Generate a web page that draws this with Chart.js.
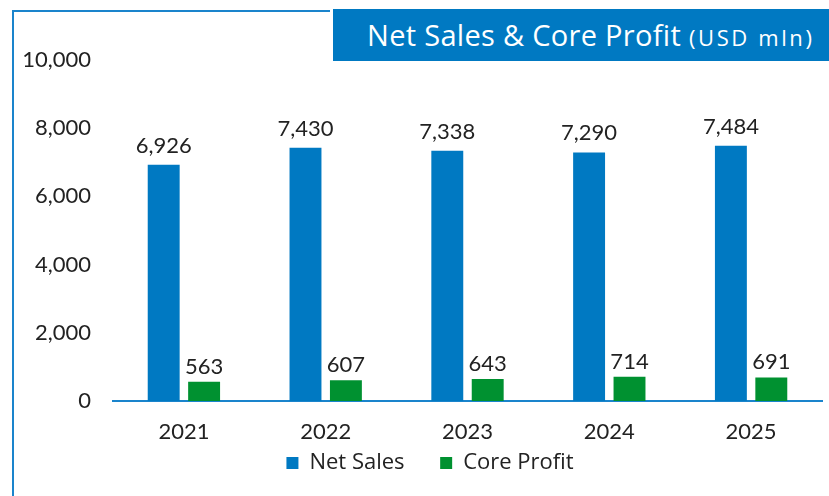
<!DOCTYPE html>
<html>
<head>
<meta charset="utf-8">
<script src="https://cdn.jsdelivr.net/npm/chart.js@4/dist/chart.umd.min.js"></script>
<style>
	body { margin: 0; background: #fff; }
	#wrap { position: relative; width: 829px; height: 496px; overflow: hidden; }
	#chart { position: absolute; left: 0; top: 0; }
	.frame-left { position: absolute; left: 12px; top: 10px; width: 2px; height: 486px; background: #1a84cc; }
	.frame-top { position: absolute; left: 12px; top: 10px; width: 318px; height: 2px; background: #1a84cc; }
	#title {
		position: absolute; left: 333px; top: 9px; width: 496px; height: 52px;
		background: #0079c2; color: #fff; font-family: "Open Sans", sans-serif;
		font-size: 29px; line-height: 52px; padding-left: 34px; box-sizing: border-box;
		white-space: nowrap; letter-spacing: 0.3px;
	}
	#title small { font-size: 22px; letter-spacing: 2.6px; }
</style>
</head>
<body>
<div id="wrap">
	<canvas id="chart" width="829" height="496"></canvas>
	<div class="frame-left"></div>
	<div class="frame-top"></div>
	<div id="title">Net Sales &amp; Core Profit <small>(USD mln)</small></div>
</div>
<script>
const years = ["2021", "2022", "2023", "2024", "2025"];
const netSales = [6926, 7430, 7338, 7290, 7484];
const coreProfit = [563, 607, 643, 714, 691];
const yMax = 10000;
const yStep = 2000;

const fmt = (v) => v.toLocaleString("en-US");

const barLabels = {
	id: "barLabels",
	afterLayout(chart) {
		// legend sits a little right of centre in the original
		chart.legend.left += 12;
		chart.legend.right += 12;
	},
	// value labels above the bars
	afterDatasetsDraw(chart) {
		const c = chart.ctx;
		c.save();
		c.font = "22px Lato, sans-serif";
		c.fillStyle = "#222";
		c.textAlign = "center";
		c.textBaseline = "alphabetic";
		chart.data.datasets.forEach((ds, i) => {
			chart.getDatasetMeta(i).data.forEach((bar, j) => {
				c.fillText(fmt(ds.data[j]), bar.x, bar.y - (i === 0 ? 12 : 8));
			});
		});
		c.restore();
	},
};

const ctx = document.getElementById("chart");
const myChart = new Chart(ctx, {
	type: "bar",
	data: {
		labels: years,
		datasets: [
			{
				label: "Net Sales",
				data: netSales,
				backgroundColor: "#0079c2",
				borderWidth: 0,
				categoryPercentage: 0.57,
				barPercentage: 0.79,
			},
			{
				label: "Core Profit",
				data: coreProfit,
				backgroundColor: "#009130",
				borderWidth: 0,
				categoryPercentage: 0.57,
				barPercentage: 0.79,
			},
		],
	},
	options: {
		responsive: false,
		animation: false,
		devicePixelRatio: 1,
		layout: {
			padding: { left: 14, right: 7, top: 60, bottom: 12 },
		},
		plugins: {
			legend: {
				position: "bottom",
				labels: {
					boxWidth: 12,
					boxHeight: 12,
					padding: 7,
					color: "#222",
					font: { family: "'Open Sans', sans-serif", size: 22 },
					generateLabels(chart) {
						const items = Chart.defaults.plugins.legend.labels.generateLabels(chart);
						// wider gap between the two entries
						items[0].text += "     ";
						return items;
					},
				},
			},
			tooltip: { enabled: false },
		},
		scales: {
			x: {
				grid: { display: false, drawTicks: false },
				border: { display: true, color: "#1a84cc", width: 2 },
				ticks: {
					padding: 18,
					color: "#222",
					font: { family: "Lato, sans-serif", size: 22 },
				},
				afterFit(scale) {
					scale.height = 44;
				},
			},
			y: {
				min: 0,
				max: yMax,
				grid: { display: false, drawTicks: false },
				border: { display: false },
				ticks: {
					stepSize: yStep,
					padding: 22,
					color: "#222",
					font: { family: "Lato, sans-serif", size: 22 },
					callback: (v) => fmt(v),
				},
				afterFit(scale) {
					scale.width = 99;
				},
			},
		},
	},
	plugins: [barLabels],
});
</script>
</body>
</html>
